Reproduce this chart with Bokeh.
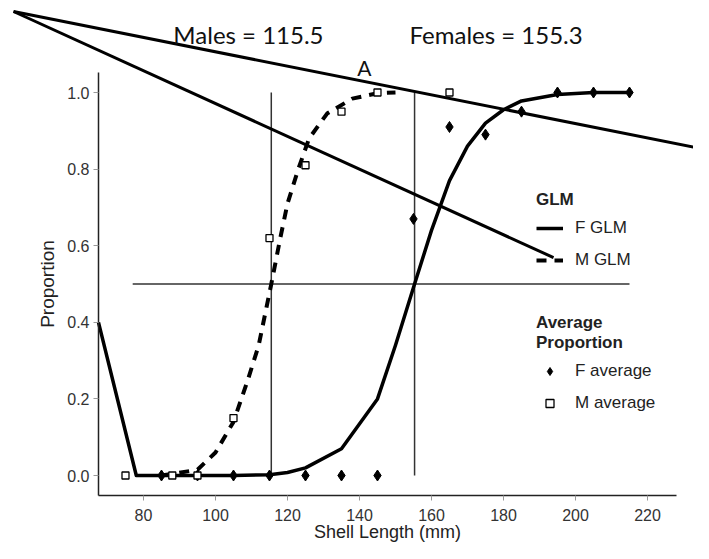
from bokeh.plotting import figure
from bokeh.models import (LinearAxis, FixedTicker, Range1d, Legend, LegendItem,
                          Label, PrintfTickFormatter)
from bokeh.embed import file_html
from bokeh.resources import INLINE

# ---------------- data ----------------
male_l50 = 115.5
female_l50 = 155.3

f_glm_x = [67.5, 78, 85, 95, 105, 115, 120, 125, 135, 145, 150, 155.3, 160, 165, 170, 175, 180, 185, 195, 205, 215]
f_glm_y = [0.40, 0.0, 0.0, 0.0, 0.0, 0.002, 0.008, 0.02, 0.07, 0.20, 0.34, 0.50, 0.64, 0.77, 0.86, 0.92, 0.955, 0.978, 0.995, 1.0, 1.0]

m_glm_x = [85, 95, 100, 105, 109, 112, 115.5, 118, 120, 123, 126, 131, 138, 145, 150]
m_glm_y = [0.0, 0.015, 0.06, 0.14, 0.25, 0.34, 0.50, 0.62, 0.71, 0.80, 0.88, 0.945, 0.984, 0.998, 1.0]

f_avg_x = [85, 95, 105, 115, 125, 135, 145, 155, 165, 175, 185, 195, 205, 215]
f_avg_y = [0, 0, 0, 0, 0, 0, 0, 0.67, 0.91, 0.89, 0.95, 1.0, 1.0, 1.0]

m_avg_x = [75, 88, 95, 105, 115, 125, 135, 145, 165]
m_avg_y = [0, 0, 0, 0.15, 0.62, 0.81, 0.95, 1.0, 1.0]

x_ticks = [80, 100, 120, 140, 160, 180, 200, 220]
y_ticks = [0.0, 0.2, 0.4, 0.6, 0.8, 1.0]

# reference lines (50% maturity)
half = 0.5
half_x0, half_x1 = 77, 215

# annotation pointer lines (from the corner towards the chart)
ptr_x0 = [43.9, 43.9]
ptr_y0 = [1.2115, 1.2115]
ptr_x1 = [237.2, 193.9]
ptr_y1 = [0.849, 0.569]

FONT = "Liberation Sans"

p = figure(width=693, height=543, x_range=Range1d(40.28, 232.78), y_range=Range1d(-0.1775, 1.2402),
           output_backend="svg", toolbar_location=None, min_border=0,
           x_axis_type=None, y_axis_type=None)
p.outline_line_color = None
p.background_fill_color = "white"
p.border_fill_color = "white"

xaxis = LinearAxis(fixed_location=-0.052, bounds=(67.5, 228), ticker=FixedTicker(ticks=x_ticks),
                   axis_label="Shell Length (mm)")
yaxis = LinearAxis(fixed_location=67.5, bounds=(-0.052, 1.052), ticker=FixedTicker(ticks=y_ticks),
                   axis_label="Proportion", formatter=PrintfTickFormatter(format="%.1f"))
for ax in (xaxis, yaxis):
    ax.major_tick_in = 0
    ax.major_tick_out = 5
    ax.minor_tick_in = 0
    ax.minor_tick_out = 0
    ax.major_tick_line_color = "#999999"
    ax.axis_line_color = "#222222"
    ax.axis_line_width = 1.5
    ax.major_label_text_font = FONT
    ax.major_label_text_font_size = "16px"
    ax.major_label_text_color = "#333333"
    ax.axis_label_text_font = FONT
    ax.axis_label_text_font_size = "19px"
    ax.axis_label_text_font_style = "normal"
    ax.axis_label_text_color = "#222222"
xaxis.axis_label_text_font_size = "18px"
xaxis.major_label_standoff = 9
xaxis.axis_label_standoff = -3
yaxis.major_label_standoff = 4
yaxis.axis_label_standoff = 6
p.add_layout(xaxis, "below")
p.add_layout(yaxis, "left")

# reference lines
p.segment(x0=[male_l50, female_l50], y0=[0, 0], x1=[male_l50, female_l50], y1=[1.0, 1.0],
          line_color="#333333", line_width=1.5)
p.segment(x0=[half_x0], y0=[half], x1=[half_x1], y1=[half], line_color="#333333", line_width=1.5)

# GLM curves
f_line = p.line(f_glm_x, f_glm_y, line_color="black", line_width=3.5, line_join="round")
m_line = p.line(m_glm_x, m_glm_y, line_color="black", line_width=4, line_dash="10 8")

# pointer lines
p.segment(x0=ptr_x0, y0=ptr_y0, x1=ptr_x1, y1=ptr_y1, line_color="black", line_width=3)

# averages
f_pts = p.scatter(f_avg_x, f_avg_y, marker="diamond", size=11, fill_color="black", line_color="black")
m_pts = p.scatter(m_avg_x, m_avg_y, marker="square", size=7, fill_color="white", line_color="black",
                  line_width=1.3)

# annotations
for txt, x, y, sz in [(f"Males = {male_l50}", 88.3, 1.151, "24px"),
                      (f"Females = {female_l50}", 153.9, 1.151, "24px"),
                      ("A", 139.4, 1.065, "21px")]:
    p.add_layout(Label(x=x, y=y, text=txt, text_font="Lato", text_font_size=sz,
                       text_color="#111111", text_baseline="alphabetic"))

def style_legend(lg):
    lg.border_line_color = None
    lg.background_fill_alpha = 0
    lg.padding = 0
    lg.margin = 0
    lg.spacing = 12
    lg.glyph_width = 27
    lg.glyph_height = 20
    lg.label_height = 20
    lg.label_standoff = 12
    lg.label_text_font = FONT
    lg.label_text_font_size = "17px"
    lg.label_text_color = "#222222"
    lg.title_text_font = FONT
    lg.title_text_font_size = "17px"
    lg.title_text_font_style = "bold"
    lg.title_text_color = "#222222"
    lg.title_standoff = 8

leg1 = Legend(title="GLM", items=[LegendItem(label="F GLM", renderers=[f_line]),
                                  LegendItem(label="M GLM", renderers=[m_line])],
              location=(536, 273))
leg2 = Legend(title="Average\nProportion", items=[LegendItem(label="F average", renderers=[f_pts]),
                                                  LegendItem(label="M average", renderers=[m_pts])],
              location=(536, 130))
style_legend(leg1)
style_legend(leg2)
p.add_layout(leg1, "center")
p.add_layout(leg2, "center")

open("out.html", "w").write(file_html(p, INLINE))
